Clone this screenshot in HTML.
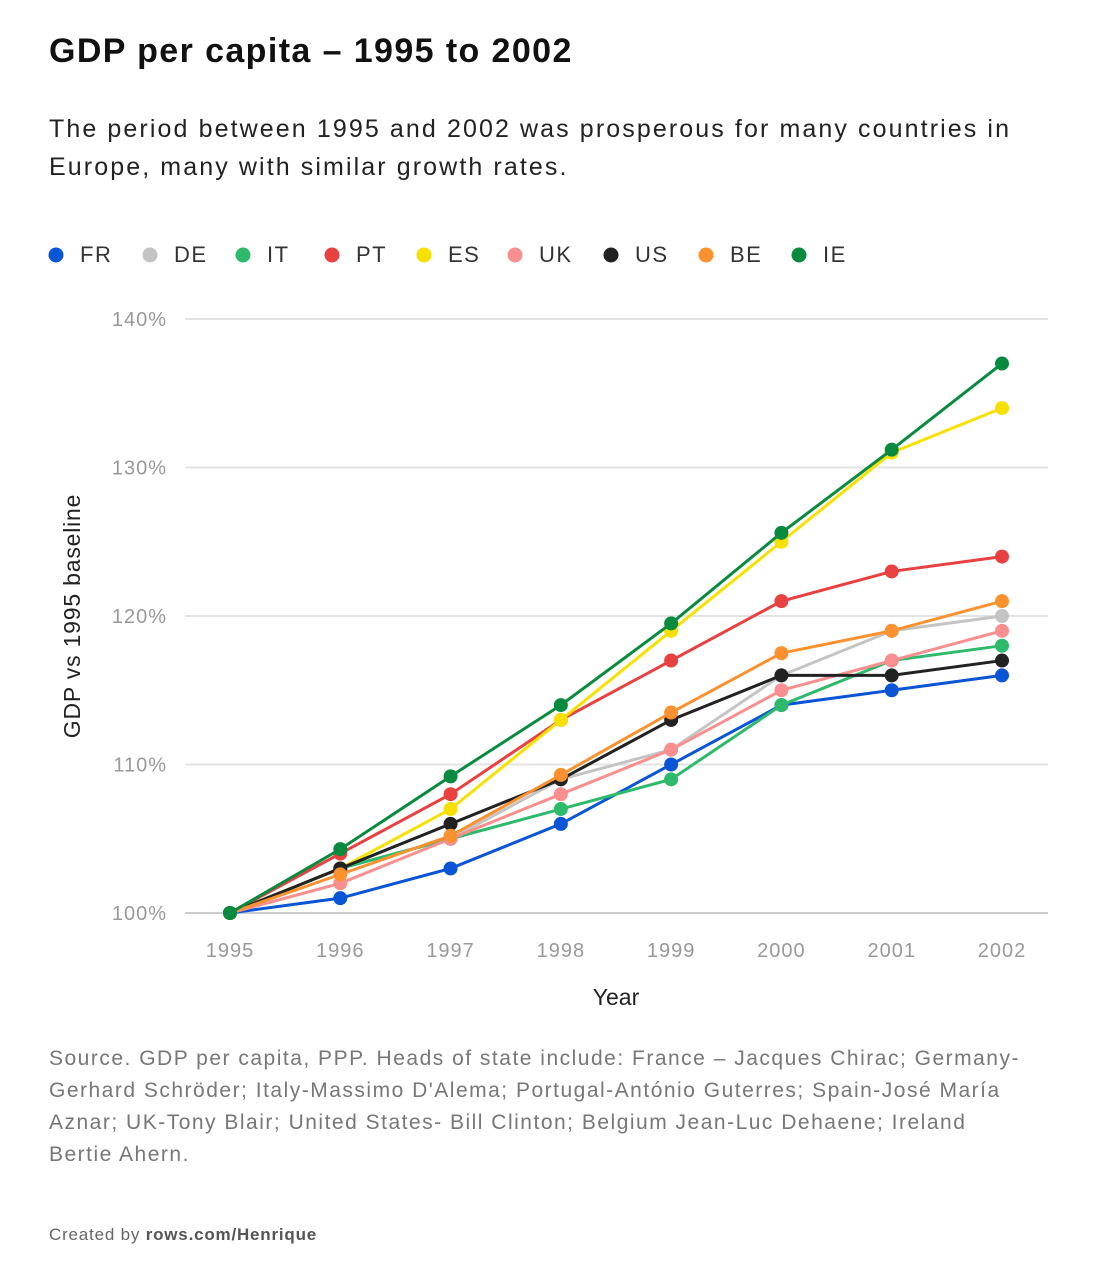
<!DOCTYPE html>
<html><head><meta charset="utf-8"><style>
body{margin:0;background:#fff;font-family:"Liberation Sans",sans-serif;}
#wrap{position:relative;width:1100px;height:1284px;}
.t{position:absolute;left:49px;white-space:nowrap;}
</style></head><body>
<div id="wrap">
<div class="t" style="top:32px;font-size:34px;font-weight:bold;color:#111;letter-spacing:1.4px;">GDP per capita – 1995 to 2002</div>
<div class="t" style="top:110px;font-size:25px;line-height:38px;color:#222;letter-spacing:2.1px;">The period between 1995 and 2002 was prosperous for many countries in<br>Europe, many with similar growth rates.</div>
<svg id="svg" width="1100" height="1050" style="position:absolute;left:0;top:0"></svg>
<div class="t" style="top:1043px;font-size:21px;line-height:32px;color:#777;letter-spacing:1.5px;">Source. GDP per capita, PPP. Heads of state include: France – Jacques Chirac; Germany-<br>Gerhard Schröder; Italy-Massimo D'Alema; Portugal-António Guterres; Spain-José María<br>Aznar; UK-Tony Blair; United States- Bill Clinton; Belgium Jean-Luc Dehaene; Ireland<br>Bertie Ahern.</div>
<div class="t" style="top:1225px;font-size:17px;color:#666;letter-spacing:0.8px;">Created by <b style="color:#555">rows.com/Henrique</b></div>
</div>
<script>
const years=[1995,1996,1997,1998,1999,2000,2001,2002];
const yTicks=[100,110,120,130,140];
const seriesNames=["FR","DE","IT","PT","ES","UK","US","BE","IE"];
const seriesColors=["#0a55d6","#c4c4c4","#2dba6a","#e84141","#f8e000","#f98f8f","#222222","#fb922f","#088a3f"];
const FR=[100,101,103,106,110,114,115,116];
const DE=[100,103,105,109,111,116,119,120];
const IT=[100,103,105,107,109,114,117,118];
const PT=[100,104,108,113,117,121,123,124];
const ES=[100,103,107,113,119,125,131,134];
const UK=[100,102,105,108,111,115,117,119];
const US=[100,103,106,109,113,116,116,117];
const BE=[100,102.6,105.2,109.3,113.5,117.5,119,121];
const IE=[100,104.3,109.2,114,119.5,125.6,131.2,137];
const seriesValues=[FR,DE,IT,PT,ES,UK,US,BE,IE];
const svg=document.getElementById('svg');const NS="http://www.w3.org/2000/svg";
function x(i){return 230+i*(1002-230)/(years.length-1);}
function y(v){return 913-(v-100)*(913-319)/40;}
function mk(tag,attrs,parent){const e=document.createElementNS(NS,tag);for(const k in attrs)e.setAttribute(k,attrs[k]);(parent||svg).appendChild(e);return e;}
yTicks.forEach(t=>{
 const l=mk('line',{x1:185,x2:1048,y1:y(t),y2:y(t),stroke:t===100?'#ccc':'#e3e3e3','stroke-width':2});
 
 
 const tx=mk('text',{x:167,y:y(t)+7,'text-anchor':'end','font-size':20,fill:'#999','font-family':'Liberation Sans, sans-serif','letter-spacing':1});
 tx.textContent=t+'%';
 
 
});
years.forEach((yr,i)=>{
 const tx=mk('text',{x:x(i),y:957,'text-anchor':'middle','font-size':20,fill:'#999','font-family':'Liberation Sans, sans-serif','letter-spacing':1});
 tx.textContent=yr;
 
 
});
const xt=mk('text',{x:616,y:1005,'text-anchor':'middle','font-size':23,fill:'#222','font-family':'Liberation Sans, sans-serif'});
xt.textContent='Year';


const yt=mk('text',{x:0,y:0,'text-anchor':'middle','font-size':23,fill:'#222','font-family':'Liberation Sans, sans-serif','letter-spacing':0.8,transform:'translate(80,616) rotate(-90)'});
yt.textContent='GDP vs 1995 baseline';


const legX=[56,150,243,332,424,515,611,706,799];
seriesNames.forEach((n,s)=>{
 const g=mk('g',{});
 
 
 mk('circle',{cx:legX[s],cy:255,r:7.5,fill:seriesColors[s]},g);
 const t=mk('text',{x:legX[s]+24,y:262,'font-size':22,fill:'#333','font-family':'Liberation Sans, sans-serif','letter-spacing':1.5},g);
 t.textContent=n;
});
seriesNames.forEach((n,s)=>{
 const g=mk('g',{});
 
 
 const vals=seriesValues[s];
 mk('polyline',{points:vals.map((v,i)=>x(i)+','+y(v)).join(' '),fill:'none',stroke:seriesColors[s],'stroke-width':3},g);
 vals.forEach((v,i)=>{
  const c=mk('circle',{cx:x(i),cy:y(v),r:7,fill:seriesColors[s]},g);
  
  
 });
});
</script>
</body></html>
